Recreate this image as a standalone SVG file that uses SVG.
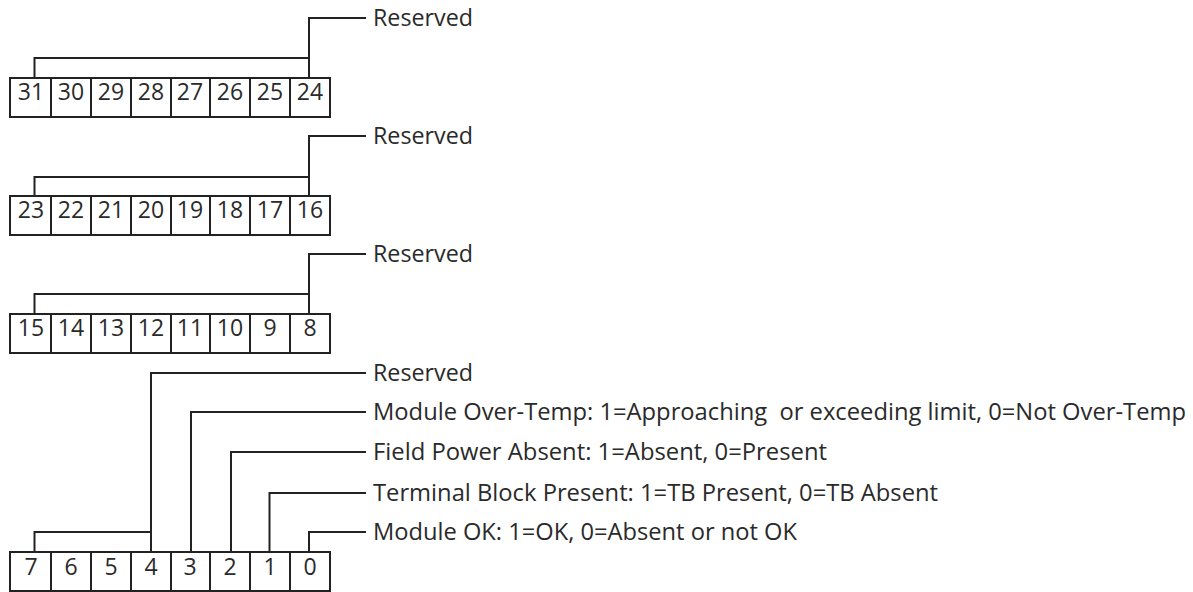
<svg xmlns="http://www.w3.org/2000/svg" width="1193" height="592" viewBox="0 0 1193 592">
<style>
.cell{fill:#fff;stroke:#222;stroke-width:2}
.num{font-family:"Open Sans","Liberation Sans",sans-serif;font-size:23px;fill:#2a2a2a;text-anchor:middle}
.lbl{font-family:"Open Sans","Liberation Sans",sans-serif;font-size:23px;fill:#2a2a2a}
.con{fill:none;stroke:#222;stroke-width:2}
</style>
<rect width="1193" height="592" fill="#fff"/>
<g id="connectors">
<path class="con" d="M34.5,78 V58 H309 M309,78 V18 H366"/>
<path class="con" d="M34.5,196 V177 H309 M309,196 V136 H366"/>
<path class="con" d="M34.5,314 V294 H309 M309,314 V254 H366"/>
<path class="con" d="M34.5,552 V532 H151 M151,552 V373 H366"/>
<path class="con" d="M191,552 V412 H366"/>
<path class="con" d="M231,552 V452 H366"/>
<path class="con" d="M269.5,552 V493 H366"/>
<path class="con" d="M309,552 V532 H366"/>
</g>
<g id="reg-31-24">
<rect class="cell" x="10" y="78" width="41" height="39"/><rect class="cell" x="51" y="78" width="40" height="39"/><rect class="cell" x="91" y="78" width="40" height="39"/><rect class="cell" x="131" y="78" width="40" height="39"/><rect class="cell" x="171" y="78" width="39" height="39"/><rect class="cell" x="210" y="78" width="40" height="39"/><rect class="cell" x="250" y="78" width="40" height="39"/><rect class="cell" x="290" y="78" width="40" height="39"/>
<text class="num" x="31" y="100">31</text><text class="num" x="71" y="100">30</text><text class="num" x="111" y="100">29</text><text class="num" x="151" y="100">28</text><text class="num" x="190" y="100">27</text><text class="num" x="230" y="100">26</text><text class="num" x="270" y="100">25</text><text class="num" x="310" y="100">24</text>
</g>
<g id="reg-23-16">
<rect class="cell" x="10" y="196" width="41" height="39"/><rect class="cell" x="51" y="196" width="40" height="39"/><rect class="cell" x="91" y="196" width="40" height="39"/><rect class="cell" x="131" y="196" width="40" height="39"/><rect class="cell" x="171" y="196" width="39" height="39"/><rect class="cell" x="210" y="196" width="40" height="39"/><rect class="cell" x="250" y="196" width="40" height="39"/><rect class="cell" x="290" y="196" width="40" height="39"/>
<text class="num" x="31" y="218">23</text><text class="num" x="71" y="218">22</text><text class="num" x="111" y="218">21</text><text class="num" x="151" y="218">20</text><text class="num" x="190" y="218">19</text><text class="num" x="230" y="218">18</text><text class="num" x="270" y="218">17</text><text class="num" x="310" y="218">16</text>
</g>
<g id="reg-15-8">
<rect class="cell" x="10" y="314" width="41" height="39"/><rect class="cell" x="51" y="314" width="40" height="39"/><rect class="cell" x="91" y="314" width="40" height="39"/><rect class="cell" x="131" y="314" width="40" height="39"/><rect class="cell" x="171" y="314" width="39" height="39"/><rect class="cell" x="210" y="314" width="40" height="39"/><rect class="cell" x="250" y="314" width="40" height="39"/><rect class="cell" x="290" y="314" width="40" height="39"/>
<text class="num" x="31" y="336">15</text><text class="num" x="71" y="336">14</text><text class="num" x="111" y="336">13</text><text class="num" x="151" y="336">12</text><text class="num" x="190" y="336">11</text><text class="num" x="230" y="336">10</text><text class="num" x="270" y="336">9</text><text class="num" x="310" y="336">8</text>
</g>
<g id="reg-7-0">
<rect class="cell" x="10" y="552" width="41" height="39"/><rect class="cell" x="51" y="552" width="40" height="39"/><rect class="cell" x="91" y="552" width="40" height="39"/><rect class="cell" x="131" y="552" width="40" height="39"/><rect class="cell" x="171" y="552" width="39" height="39"/><rect class="cell" x="210" y="552" width="40" height="39"/><rect class="cell" x="250" y="552" width="40" height="39"/><rect class="cell" x="290" y="552" width="40" height="39"/>
<text class="num" x="31" y="575">7</text><text class="num" x="71" y="575">6</text><text class="num" x="111" y="575">5</text><text class="num" x="151" y="575">4</text><text class="num" x="190" y="575">3</text><text class="num" x="230" y="575">2</text><text class="num" x="270" y="575">1</text><text class="num" x="310" y="575">0</text>
</g>
<g id="label-reserved-1"><text class="lbl" x="373" y="26" textLength="100" lengthAdjust="spacingAndGlyphs">Reserved</text></g>
<g id="label-reserved-2"><text class="lbl" x="373" y="144" textLength="100" lengthAdjust="spacingAndGlyphs">Reserved</text></g>
<g id="label-reserved-3"><text class="lbl" x="373" y="262" textLength="100" lengthAdjust="spacingAndGlyphs">Reserved</text></g>
<g id="label-reserved-4"><text class="lbl" x="373" y="381" textLength="100" lengthAdjust="spacingAndGlyphs">Reserved</text></g>
<g id="label-overtemp"><text class="lbl" x="373" y="420" textLength="813" lengthAdjust="spacingAndGlyphs" xml:space="preserve">Module Over-Temp: 1=Approaching  or exceeding limit, 0=Not Over-Temp</text></g>
<g id="label-fieldpower"><text class="lbl" x="373" y="460" textLength="454" lengthAdjust="spacingAndGlyphs">Field Power Absent: 1=Absent, 0=Present</text></g>
<g id="label-terminal"><text class="lbl" x="373" y="501" textLength="565" lengthAdjust="spacingAndGlyphs">Terminal Block Present: 1=TB Present, 0=TB Absent</text></g>
<g id="label-moduleok"><text class="lbl" x="373" y="540" textLength="424" lengthAdjust="spacingAndGlyphs">Module OK: 1=OK, 0=Absent or not OK</text></g>
</svg>
